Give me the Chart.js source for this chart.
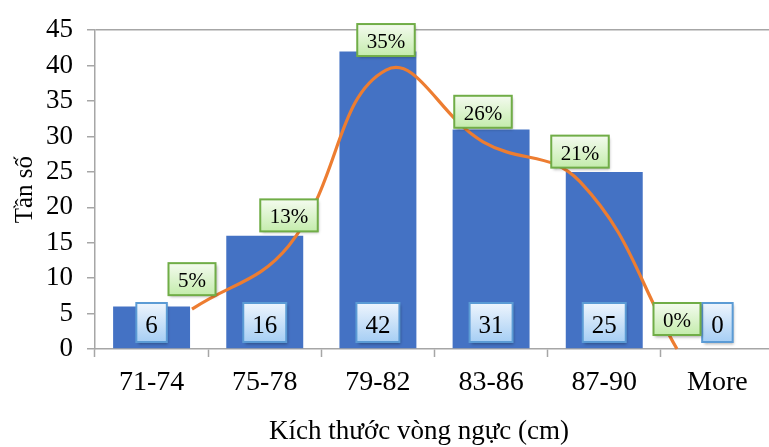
<!DOCTYPE html>
<html>
<head>
<meta charset="utf-8">
<script src="https://cdn.jsdelivr.net/npm/chart.js@4.4.1/dist/chart.umd.min.js"></script>
<style>
  html, body { margin: 0; padding: 0; background: #fff; overflow: hidden; width: 769px; height: 447px; }
  #wrap { position: absolute; left: 0; top: 0; width: 776px; height: 447px; }
</style>
</head>
<body>
<div id="wrap"><canvas id="c" width="776" height="447"></canvas></div>
<script>
// Chest-size classes and how many people fall into each
const categories = ['71-74', '75-78', '79-82', '83-86', '87-90', 'More'];
const frequency = [6, 16, 42, 31, 25, 0];
// Share of each class, in percent
const percent = [5, 13, 35, 26, 21, 0];
const yMax = 45;
const yStep = 5;
const xTitle = 'Kích thước vòng ngực (cm)';

const SERIF = "'Liberation Serif', 'Times New Roman', serif";
const AXIS_GRAY = '#A6A6A6';

function drawBox(ctx, x, y, w, h, top, bottom, stroke) {
  ctx.save();
  ctx.shadowColor = 'rgba(0,0,0,0.35)';
  ctx.shadowBlur = 3;
  ctx.shadowOffsetX = 1.5;
  ctx.shadowOffsetY = 2;
  const g = ctx.createLinearGradient(0, y, 0, y + h);
  g.addColorStop(0, top);
  g.addColorStop(1, bottom);
  ctx.fillStyle = g;
  ctx.fillRect(x, y, w, h);
  ctx.restore();
  ctx.save();
  ctx.strokeStyle = stroke;
  ctx.lineWidth = 2;
  ctx.strokeRect(x, y, w, h);
  ctx.restore();
}

// Value boxes: counts sit at the foot of each bar, percentages above each line point
const labelBoxes = {
  id: 'labelBoxes',
  afterDatasetsDraw(chart) {
    const ctx = chart.ctx;
    const zeroY = chart.scales.y.getPixelForValue(0);

    const barMeta = chart.getDatasetMeta(1);
    ctx.font = '25px ' + SERIF;
    barMeta.data.forEach((el, i) => {
      const txt = String(frequency[i]);
      const w = ctx.measureText(txt).width + 18;
      const h = 39;
      const top = zeroY - 7 - h;
      drawBox(ctx, el.x - w / 2, top, w, h, '#EEF5FD', '#A6CEF4', '#5B9BD5');
      ctx.fillStyle = '#000';
      ctx.textAlign = 'center';
      ctx.textBaseline = 'alphabetic';
      ctx.fillText(txt, el.x, top + 30);
    });

    const lineMeta = chart.getDatasetMeta(0);
    ctx.font = '21px ' + SERIF;
    lineMeta.data.forEach((el, i) => {
      const txt = percent[i] + '%';
      const w = ctx.measureText(txt).width + 19;
      const h = 32;
      const top = el.y - 14 - h;
      drawBox(ctx, el.x - w / 2, top, w, h, '#F4FBEF', '#C4ECAC', '#70AD47');
      ctx.fillStyle = '#000';
      ctx.textAlign = 'center';
      ctx.textBaseline = 'alphabetic';
      ctx.fillText(txt, el.x, top + 24);
    });
  },
  // Horizontal axis title, centred under the whole chart frame
  afterDraw(chart) {
    const ctx = chart.ctx;
    ctx.save();
    ctx.font = '27px ' + SERIF;
    ctx.fillStyle = '#000';
    ctx.textAlign = 'center';
    ctx.textBaseline = 'alphabetic';
    ctx.fillText(xTitle, 419, 439);
    ctx.restore();
  }
};

new Chart(document.getElementById('c'), {
  type: 'bar',
  data: {
    labels: categories,
    datasets: [
      {
        type: 'line',
        data: percent.map((v, i) => ({ x: i + 1, y: v })),
        xAxisID: 'x2',
        yAxisID: 'y2',
        borderColor: '#ED7D31',
        borderWidth: 3.2,
        pointRadius: 0,
        tension: 0.42,
        fill: false,
        clip: false,
        order: 0
      },
      {
        type: 'bar',
        data: frequency,
        backgroundColor: '#4472C4',
        borderWidth: 0,
        grouped: false,
        categoryPercentage: 1,
        barPercentage: 0.68,
        xAxisID: 'x',
        yAxisID: 'y',
        order: 1
      }
    ]
  },
  options: {
    responsive: false,
    animation: false,
    devicePixelRatio: 1,
    layout: { padding: { left: 0, right: 2, top: 17, bottom: 0 } },
    plugins: { legend: { display: false }, tooltip: { enabled: false } },
    scales: {
      x: {
        type: 'category',
        offset: true,
        grid: {
          offset: true,
          drawOnChartArea: false,
          drawTicks: true,
          tickLength: 8,
          tickColor: AXIS_GRAY,
          tickWidth: 1.5
        },
        border: { display: true, color: AXIS_GRAY, width: 1.5 },
        ticks: { font: { family: SERIF, size: 28 }, color: '#000', padding: 9, maxRotation: 0 },
        afterFit(scale) { scale.height = 98; }
      },
      y: {
        min: 0,
        max: yMax,
        ticks: { stepSize: yStep, font: { family: SERIF, size: 27 }, color: '#000', padding: 14 },
        grid: {
          color: (c) => (c.tick && c.tick.value === yMax ? AXIS_GRAY : 'rgba(0,0,0,0)'),
          lineWidth: 1.5,
          drawTicks: true,
          tickLength: 8,
          tickColor: AXIS_GRAY,
          tickWidth: 1.5
        },
        border: { display: true, color: AXIS_GRAY, width: 1.5 },
        title: {
          display: true,
          text: 'Tần số',
          font: { family: SERIF, size: 25 },
          color: '#000',
          padding: { top: 10, bottom: 0 }
        },
        afterFit(scale) { scale.width = 95; }
      },
      x2: { type: 'linear', min: 0, max: 7, offset: false, display: false },
      y2: { type: 'linear', min: 0, max: 40, display: false }
    }
  },
  plugins: [labelBoxes]
});
</script>
</body>
</html>
